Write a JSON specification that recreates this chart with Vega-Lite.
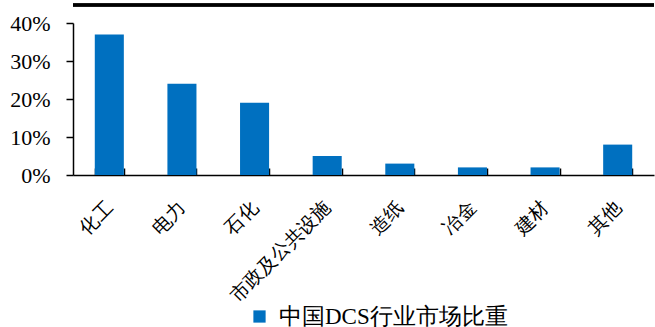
{
  "$schema": "https://vega.github.io/schema/vega-lite/v6.json",
  "width": 581,
  "height": 152,
  "autosize": {"type": "none"},
  "padding": {"left": 73, "top": 23, "right": 1, "bottom": 152},
  "background": "white",
  "config": {
    "view": {"stroke": null},
    "font": "Times New Roman, Liberation Serif, DejaVu Serif, serif",
    "axis": {"labelColor": "black", "domainColor": "black", "tickColor": "black", "grid": false, "title": null, "labelFont": "Times New Roman, Liberation Serif, DejaVu Serif, serif"}
  },
  "data": {
    "values": [
      {"category": "化工", "share": 0.37, "series": "中国DCS行业市场比重"},
      {"category": "电力", "share": 0.24, "series": "中国DCS行业市场比重"},
      {"category": "石化", "share": 0.19, "series": "中国DCS行业市场比重"},
      {"category": "市政及公共设施", "share": 0.05, "series": "中国DCS行业市场比重"},
      {"category": "造纸", "share": 0.03, "series": "中国DCS行业市场比重"},
      {"category": "冶金", "share": 0.02, "series": "中国DCS行业市场比重"},
      {"category": "建材", "share": 0.02, "series": "中国DCS行业市场比重"},
      {"category": "其他", "share": 0.08, "series": "中国DCS行业市场比重"}
    ]
  },
  "layer": [
    {
      "mark": {"type": "bar", "color": "#0070C0"},
      "encoding": {
        "x": {
          "field": "category", "type": "nominal", "sort": null,
          "scale": {"paddingInner": 0.6, "paddingOuter": 0.3},
          "axis": {
            "labelAngle": -45, "labelAlign": "right", "labelBaseline": "middle",
            "labelFontSize": 19, "labelPadding": 36, "tickSize": -7, "tickBand": "extent",
            "domainWidth": 1.5, "tickWidth": 1.5, "labelOverlap": false
          }
        },
        "y": {
          "field": "share", "type": "quantitative",
          "scale": {"domain": [0, 0.4], "nice": false},
          "axis": {
            "values": [0, 0.1, 0.2, 0.3, 0.4], "format": ".0%",
            "labelFontSize": 22, "labelPadding": 16, "tickSize": 7,
            "domainWidth": 1.5, "tickWidth": 1.5, "labelOverlap": false
          }
        },
        "color": {
          "field": "series", "type": "nominal",
          "scale": {"range": ["#0070C0"]},
          "legend": {
            "title": null, "orient": "none", "legendX": 175, "legendY": 282,
            "symbolType": "square", "symbolSize": 150, "symbolStrokeWidth": 0,
            "labelFontSize": 23, "labelColor": "black", "labelOffset": 8,
            "labelFont": "Times New Roman, Liberation Serif, DejaVu Serif, serif", "labelLimit": 400
          }
        }
      }
    },
    {
      "mark": {"type": "rule", "color": "black", "strokeWidth": 2.5},
      "encoding": {
        "y": {
          "datum": 0.4474, "type": "quantitative",
          "axis": {
            "values": [0, 0.1, 0.2, 0.3, 0.4], "format": ".0%",
            "labelFontSize": 22, "labelPadding": 16, "tickSize": 7,
            "domainWidth": 1.5, "tickWidth": 1.5, "labelOverlap": false
          }
        }
      }
    }
  ]
}
